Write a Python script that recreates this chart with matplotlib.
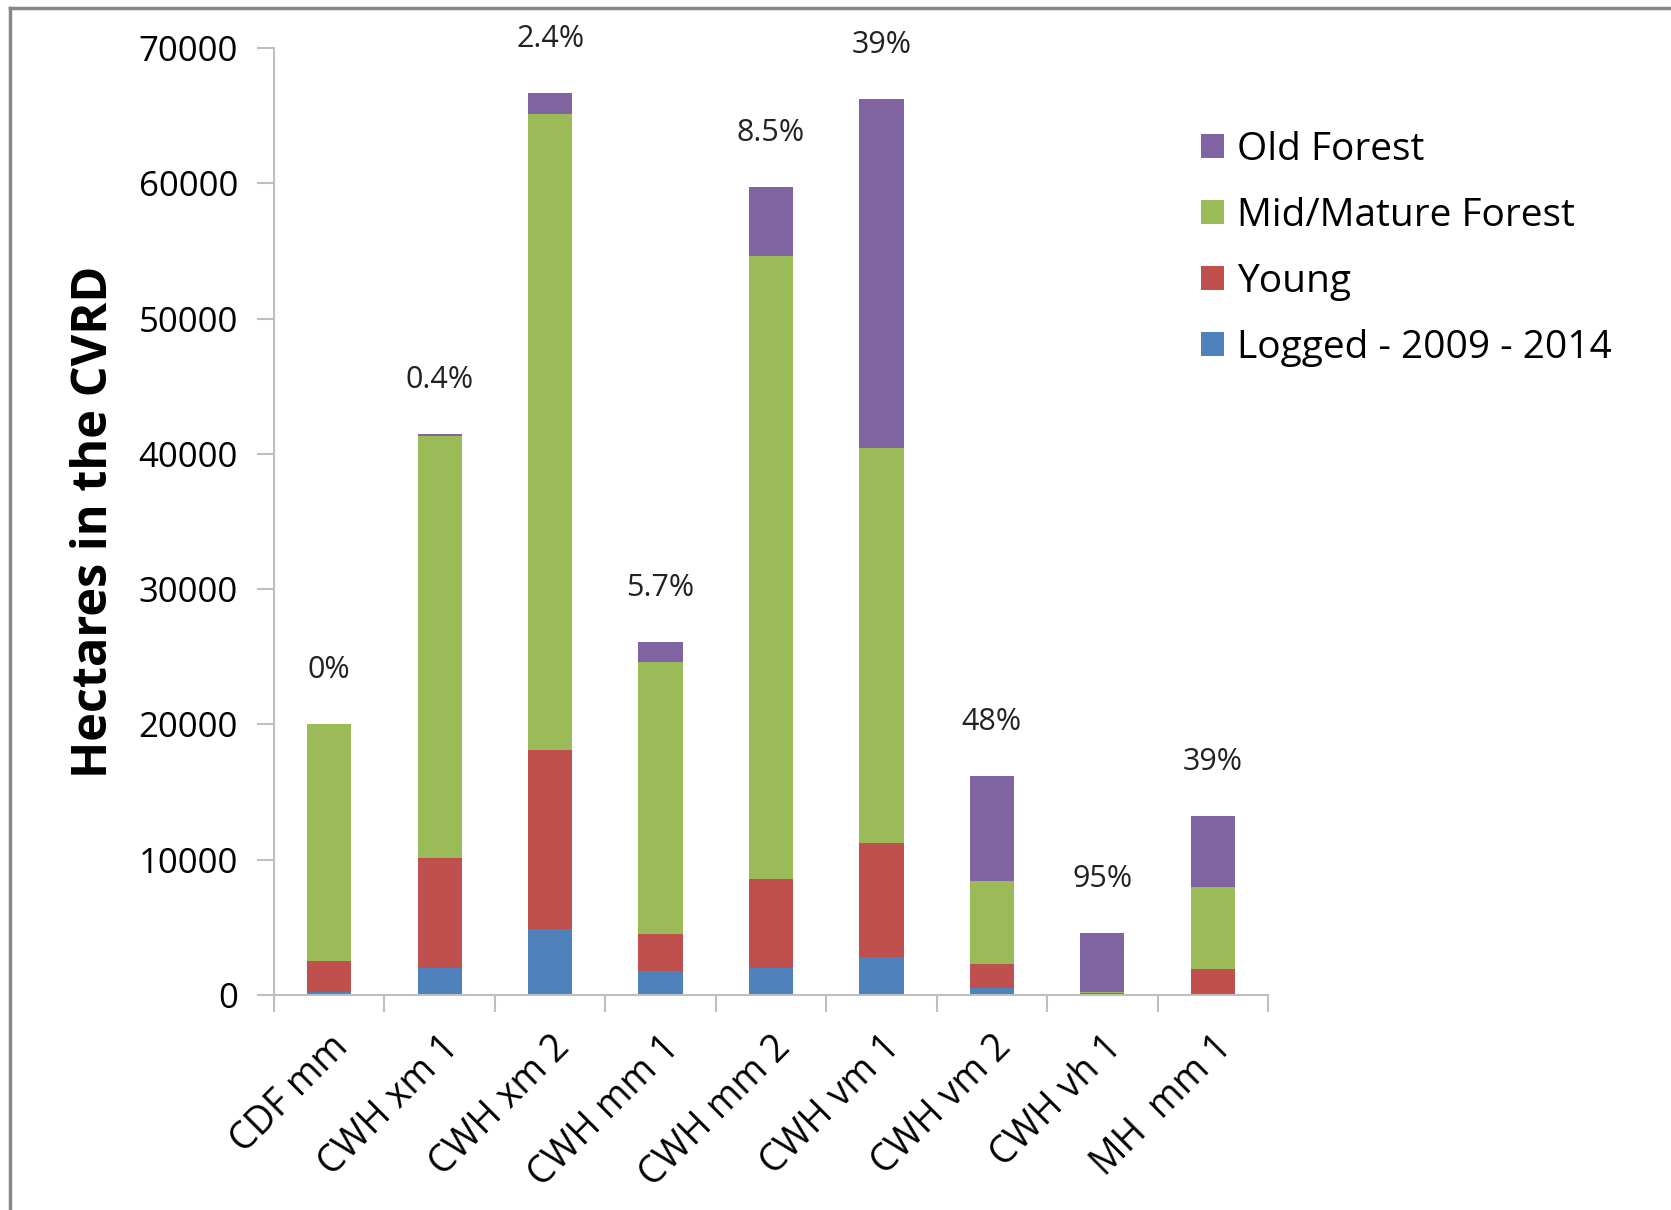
import numpy as np
import matplotlib
matplotlib.use('Agg')
import matplotlib.pyplot as plt
from matplotlib.lines import Line2D

plt.rcParams['font.family'] = ['Open Sans', 'DejaVu Sans']

# zones and forest age classes (hectares)
zones = ['CDF mm', 'CWH xm 1', 'CWH xm 2', 'CWH mm 1', 'CWH mm 2',
         'CWH vm 1', 'CWH vm 2', 'CWH vh 1', 'MH  mm 1']
logged = [200, 2000, 4900, 1800, 2000, 2800, 500, 50, 100]
young = [2300, 8100, 13200, 2700, 6600, 8400, 1800, 100, 1800]
mid_mature = [17500, 31200, 47000, 20100, 46000, 29200, 6100, 50, 6100]
old_forest = [0, 170, 1600, 1500, 5100, 25800, 7800, 4350, 5200]
pct_labels = ['0%', '0.4%', '2.4%', '5.7%', '8.5%', '39%', '48%', '95%', '39%']

series = [('Logged - 2009 - 2014', logged, '#4f81bd'),
          ('Young', young, '#c0504d'),
          ('Mid/Mature Forest', mid_mature, '#9bbb59'),
          ('Old Forest', old_forest, '#8064a2')]

W, H = 1671, 1210
fig = plt.figure(figsize=(W/100, H/100), dpi=100)
ax = fig.add_axes([274/W, 1-995/H, (1268-274)/W, (995-48)/H])

x = np.arange(len(zones))
bottom = np.zeros(len(zones))
handles = {}
for name, vals, col in series:
    b = ax.bar(x, vals, width=0.4, bottom=bottom, color=col, label=name)
    handles[name] = b
    bottom = bottom + np.array(vals)

for i, lab in enumerate(pct_labels):
    ax.text(x[i], bottom[i] + 4000, lab, ha='center', va='center', fontsize=22, color='#222222')

ax.set_xlim(-0.5, len(zones)-0.5)
ax.set_ylim(0, 70000)
ax.set_yticks(np.arange(0, 70001, 10000))
ax.set_yticklabels([str(v) for v in range(0, 70001, 10000)], fontsize=25)
ax.set_xticks(x)
ax.set_xticklabels(zones, rotation=45, ha='right', rotation_mode='anchor', fontsize=27)
ax.tick_params(axis='x', length=0, pad=24)
ax.set_xticks(np.arange(-0.5, len(zones), 1), minor=True)
ax.tick_params(axis='x', which='minor', length=12, color='#bfbfbf', width=1.5)
ax.tick_params(axis='y', length=12, color='#bfbfbf', width=1.5, pad=14)

for s in ['top', 'right']:
    ax.spines[s].set_visible(False)
for s in ['left', 'bottom']:
    ax.spines[s].set_color('#bfbfbf')
    ax.spines[s].set_linewidth(1.5)

ax.set_ylabel('Hectares in the CVRD', fontsize=35, fontweight='bold', labelpad=14)

order = ['Old Forest', 'Mid/Mature Forest', 'Young', 'Logged - 2009 - 2014']
leg = fig.legend([handles[n] for n in order], order, loc='upper left',
                 bbox_to_anchor=(1166/W, 1-96/H), frameon=False, fontsize=28,
                 handlelength=0.58, handleheight=0.58, handletextpad=0.35, labelspacing=0.72)

# outer frame (left and top edges)
fig.add_artist(Line2D([10/W, 10/W], [0, 1-8/H], color='#888888', lw=2.5))
fig.add_artist(Line2D([10/W, 1], [1-8/H, 1-8/H], color='#888888', lw=2.5))

fig.savefig('out.png', dpi=100)
